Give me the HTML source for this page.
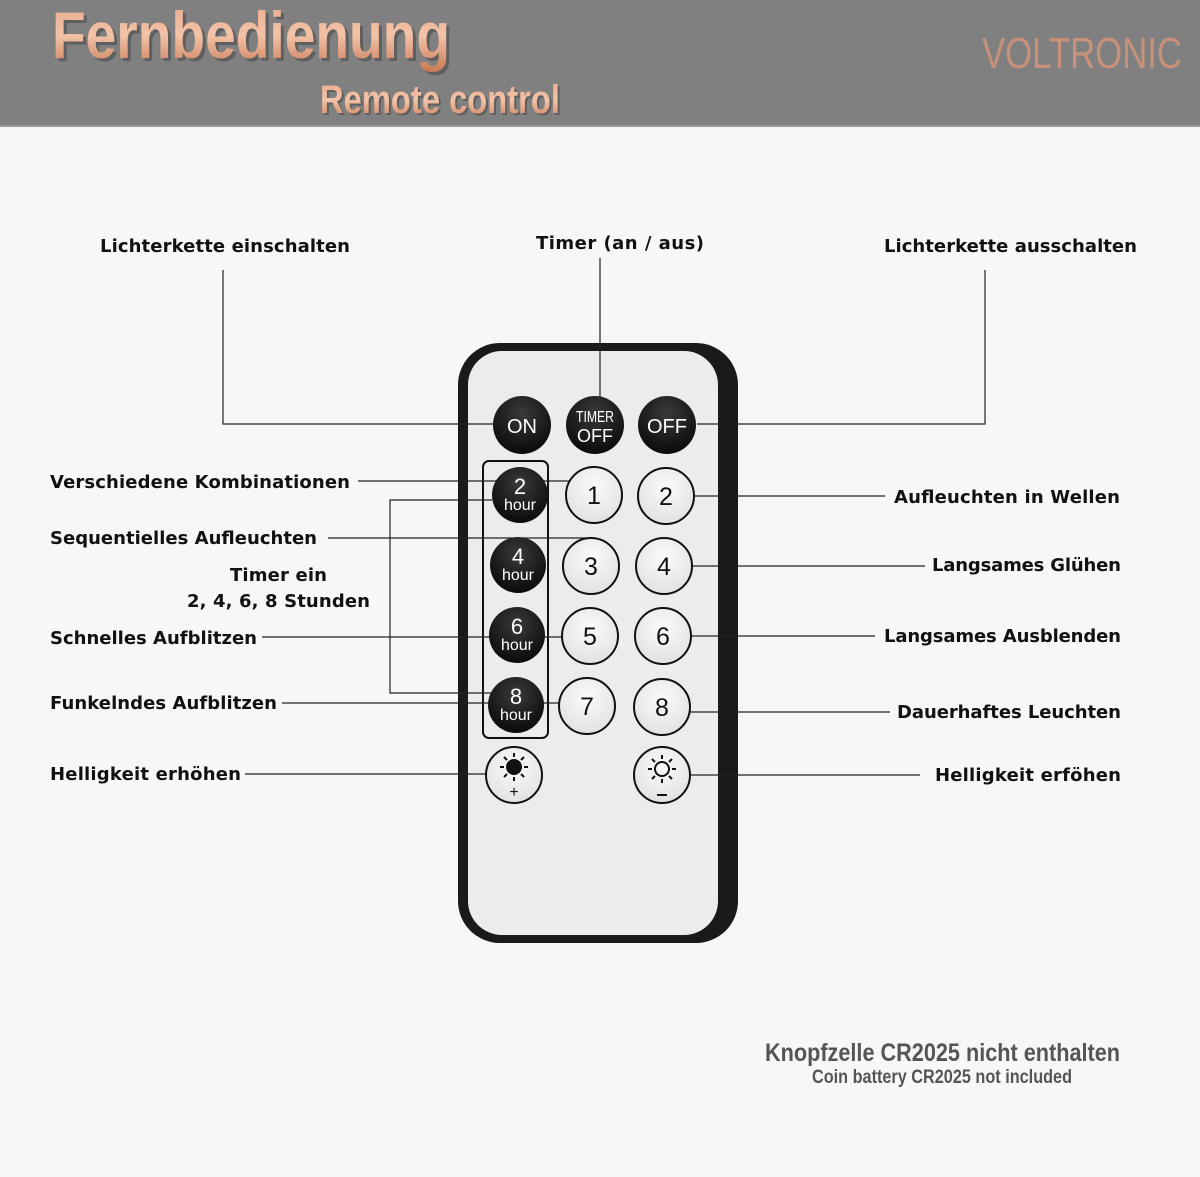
<!DOCTYPE html>
<html><head><meta charset="utf-8"><style>
html,body{margin:0;padding:0;background:#f7f7f7}
svg{display:block}
</style></head><body>
<svg width="1200" height="1177" viewBox="0 0 1200 1177" xmlns="http://www.w3.org/2000/svg">
<defs>
<linearGradient id="cu" x1="0" y1="0" x2="0" y2="1">
<stop offset="0" stop-color="#e8a88a"/><stop offset="0.5" stop-color="#f3c3a8"/><stop offset="1" stop-color="#c97a55"/>
</linearGradient>
<radialGradient id="dk" cx="0.5" cy="0.3" r="0.7">
<stop offset="0" stop-color="#3a3a3a"/><stop offset="1" stop-color="#0a0a0a"/>
</radialGradient>
<radialGradient id="lt" cx="0.5" cy="0.35" r="0.7">
<stop offset="0" stop-color="#fafafa"/><stop offset="1" stop-color="#e0e0e0"/>
</radialGradient>
</defs>
<rect x="0" y="0" width="1200" height="125" fill="#808080"/>
<rect x="0" y="125" width="1200" height="2" fill="#999"/>
<g font-family="Liberation Sans Narrow, Liberation Sans, sans-serif" font-weight="bold">
<text x="52" y="58" font-size="66" fill="#4a4a4a" textLength="398" lengthAdjust="spacingAndGlyphs" transform="translate(3,3)" opacity="0.6">Fernbedienung</text>
<text x="52" y="58" font-size="66" fill="url(#cu)" textLength="398" lengthAdjust="spacingAndGlyphs">Fernbedienung</text>
<text x="320" y="113" font-size="40" fill="#4a4a4a" textLength="240" lengthAdjust="spacingAndGlyphs" transform="translate(2,2)" opacity="0.6">Remote control</text>
<text x="320" y="113" font-size="40" fill="url(#cu)" textLength="240" lengthAdjust="spacingAndGlyphs">Remote control</text>
<text x="982" y="68" font-size="44" fill="#c7917a" textLength="200" lengthAdjust="spacingAndGlyphs" font-family="Liberation Sans Narrow, Liberation Sans, sans-serif" font-weight="normal">VOLTRONIC</text>
</g>

<rect x="458" y="343" width="280" height="600" rx="42" fill="#1a1a1a"/>
<rect x="468" y="351" width="250" height="584" rx="34" fill="#ececec"/>
<rect x="483" y="461" width="65" height="277" rx="6" fill="none" stroke="#111" stroke-width="2"/>

<g stroke="#222" stroke-width="1.2" fill="none">
<polyline points="223,270 223,424 496,424"/>
<line x1="600" y1="258" x2="600" y2="400"/>
<polyline points="985,270 985,424 697,424"/>
<line x1="358" y1="481" x2="578" y2="481"/>
<polyline points="328,538 587,538 587,548"/>
<polyline points="492,500 390,500 390,693 492,693"/>
<line x1="262" y1="637" x2="573" y2="637"/>
<line x1="282" y1="703" x2="570" y2="703"/>
<line x1="245" y1="774" x2="496" y2="774"/>
<line x1="687" y1="496" x2="885" y2="496"/>
<line x1="688" y1="566" x2="925" y2="566"/>
<line x1="680" y1="636" x2="875" y2="636"/>
<line x1="688" y1="712" x2="890" y2="712"/>
<line x1="683" y1="775" x2="920" y2="775"/>
</g>

<g font-family="Liberation Sans, sans-serif" text-anchor="middle">
<circle cx="522" cy="425" r="29" fill="url(#dk)"/>
<text x="522" y="433" font-size="20" fill="#fff">ON</text>
<circle cx="595" cy="425" r="29" fill="url(#dk)"/>
<text x="595" y="422" font-size="16" fill="#fff" textLength="38" lengthAdjust="spacingAndGlyphs">TIMER</text>
<text x="595" y="442" font-size="18" fill="#fff">OFF</text>
<circle cx="667" cy="425" r="29" fill="url(#dk)"/>
<text x="667" y="433" font-size="20" fill="#fff">OFF</text>

<circle cx="520" cy="495" r="28" fill="url(#dk)"/>
<text x="520" y="494" font-size="22" fill="#fff">2</text><text x="520" y="510" font-size="16" fill="#fff">hour</text>
<circle cx="518" cy="565" r="28" fill="url(#dk)"/>
<text x="518" y="564" font-size="22" fill="#fff">4</text><text x="518" y="580" font-size="16" fill="#fff">hour</text>
<circle cx="517" cy="635" r="28" fill="url(#dk)"/>
<text x="517" y="634" font-size="22" fill="#fff">6</text><text x="517" y="650" font-size="16" fill="#fff">hour</text>
<circle cx="516" cy="705" r="28" fill="url(#dk)"/>
<text x="516" y="704" font-size="22" fill="#fff">8</text><text x="516" y="720" font-size="16" fill="#fff">hour</text>

<g fill="url(#lt)" stroke="#111" stroke-width="2">
<circle cx="594" cy="495" r="28"/><circle cx="591" cy="566" r="28"/><circle cx="590" cy="636" r="28"/><circle cx="587" cy="706" r="28"/>
<circle cx="666" cy="496" r="28"/><circle cx="664" cy="566" r="28"/><circle cx="663" cy="636" r="28"/><circle cx="662" cy="707" r="28"/>
<circle cx="514" cy="775" r="28"/><circle cx="662" cy="775" r="28"/>
</g>
<g font-size="25" fill="#111">
<text x="594" y="504">1</text><text x="591" y="575">3</text><text x="590" y="645">5</text><text x="587" y="715">7</text>
<text x="666" y="505">2</text><text x="664" y="575">4</text><text x="663" y="645">6</text><text x="662" y="716">8</text>
</g>
<circle cx="514" cy="767" r="8" fill="#111"/>
<g stroke="#111" stroke-width="2">
<line x1="514" y1="753" x2="514" y2="757"/><line x1="514" y1="777" x2="514" y2="781"/>
<line x1="500" y1="767" x2="504" y2="767"/><line x1="524" y1="767" x2="528" y2="767"/>
<line x1="504" y1="757" x2="507" y2="760"/><line x1="521" y1="774" x2="524" y2="777"/>
<line x1="524" y1="757" x2="521" y2="760"/><line x1="507" y1="774" x2="504" y2="777"/>
</g>
<text x="514" y="797" font-size="16" fill="#111">+</text>
<circle cx="662" cy="769" r="7" fill="none" stroke="#111" stroke-width="2"/>
<g stroke="#111" stroke-width="2">
<line x1="662" y1="755" x2="662" y2="759"/><line x1="662" y1="779" x2="662" y2="783"/>
<line x1="648" y1="769" x2="652" y2="769"/><line x1="672" y1="769" x2="676" y2="769"/>
<line x1="652" y1="759" x2="655" y2="762"/><line x1="669" y1="776" x2="672" y2="779"/>
<line x1="672" y1="759" x2="669" y2="762"/><line x1="655" y1="776" x2="652" y2="779"/>
<line x1="657" y1="795" x2="667" y2="795"/>
</g>
</g>

<g font-family="DejaVu Sans, Liberation Sans, sans-serif" font-weight="bold" font-size="18" fill="#111" lengthAdjust="spacing">
<text x="100" y="252" textLength="250">Lichterkette einschalten</text>
<text x="536" y="249" textLength="168">Timer (an / aus)</text>
<text x="884" y="252" textLength="253">Lichterkette ausschalten</text>
<text x="50" y="488" textLength="300">Verschiedene Kombinationen</text>
<text x="50" y="544" textLength="267">Sequentielles Aufleuchten</text>
<text x="230" y="581" textLength="97">Timer ein</text>
<text x="187" y="607" textLength="183">2, 4, 6, 8 Stunden</text>
<text x="50" y="644" textLength="207">Schnelles Aufblitzen</text>
<text x="50" y="709" textLength="227">Funkelndes Aufblitzen</text>
<text x="50" y="780" textLength="191">Helligkeit erhöhen</text>
<text x="894" y="503" textLength="226">Aufleuchten in Wellen</text>
<text x="932" y="571" textLength="189">Langsames Glühen</text>
<text x="884" y="642" textLength="237">Langsames Ausblenden</text>
<text x="897" y="718" textLength="224">Dauerhaftes Leuchten</text>
<text x="935" y="781" textLength="186">Helligkeit erföhen</text>
</g>

<g font-family="Liberation Sans, sans-serif" font-weight="bold" fill="#555">
<text x="765" y="1061" font-size="25" textLength="355" lengthAdjust="spacingAndGlyphs">Knopfzelle CR2025 nicht enthalten</text>
<text x="812" y="1083" font-size="19" textLength="260" lengthAdjust="spacingAndGlyphs">Coin battery CR2025 not included</text>
</g>
</svg>
</body></html>
